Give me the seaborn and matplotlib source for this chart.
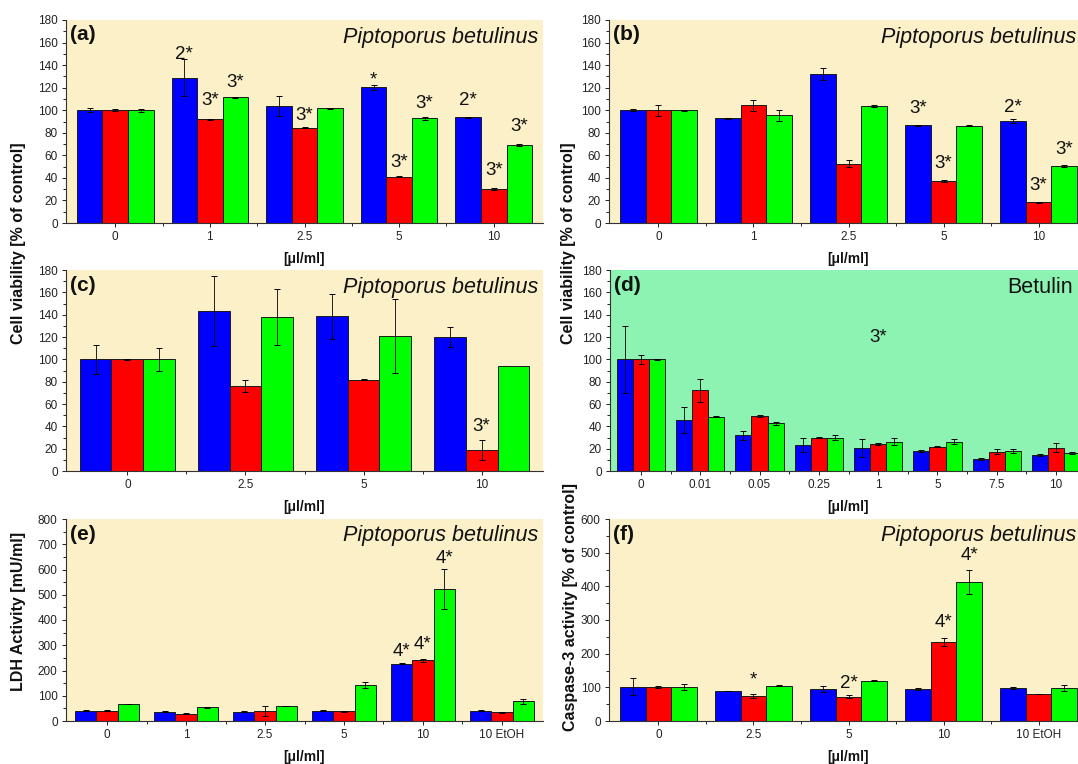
import matplotlib
matplotlib.use("Agg")
import matplotlib.pyplot as plt
import pandas as pd
import seaborn as sns
from matplotlib.container import BarContainer
from matplotlib.ticker import MultipleLocator, FixedLocator

sns.set_style("ticks")
plt.rcParams["font.family"] = ["Liberation Sans", "DejaVu Sans"]

series = ["Series 1", "Series 2", "Series 3"]
colors = ["#0000FF", "#FF0000", "#00FF00"]

# ---------------- panel (a) ----------------
a_cats = ["0", "1", "2.5", "5", "10"]
a_blue = [100, 129, 103.6, 120.2, 93.8]
a_red = [100, 91.8, 84.4, 40.9, 29.9]
a_green = [100, 111.3, 101.8, 92.7, 69]
a_err_blue = [2, 16, 9, 2, 0.5]
a_err_red = [1, 0.5, 0.5, 0.5, 0.8]
a_err_green = [1.5, 0.5, 0.5, 1.2, 1]
a_notes = [("1", 0, 149, "2*"), ("1", 1, 109, "3*"), ("1", 2, 125, "3*"),
           ("2.5", 1, 95.6, "3*"), ("5", 0, 127, "*"), ("5", 2, 106, "3*"),
           ("5", 1, 54, "3*"), ("10", 0, 109, "2*"), ("10", 1, 46.8, "3*"),
           ("10", 2, 85.8, "3*")]

# ---------------- panel (b) ----------------
b_cats = ["0", "1", "2.5", "5", "10"]
b_blue = [100, 92.7, 132, 86.7, 90.6]
b_red = [100, 104.5, 52.7, 37.3, 18.4]
b_green = [100, 95.6, 103.6, 86.1, 50.6]
b_err_blue = [1, 0.5, 5, 0.5, 1.5]
b_err_red = [5, 5, 3, 1, 0.5]
b_err_green = [0.5, 5, 1, 0.5, 1]
b_notes = [("5", 0, 101.5, "3*"), ("5", 1, 52.7, "3*"), ("10", 0, 102.4, "2*"),
           ("10", 1, 33.5, "3*"), ("10", 2, 65, "3*")]

# ---------------- panel (c) ----------------
c_cats = ["0", "2.5", "5", "10"]
c_blue = [100, 143.3, 138.5, 119.7]
c_red = [100, 76.4, 81.8, 18.8]
c_green = [100, 138, 121.2, 93.7]
c_err_blue = [13, 31, 20, 9]
c_err_red = [0.5, 5.5, 0.5, 9]
c_err_green = [10, 25, 33, 0]
c_notes = [("10", 1, 39.7, "3*")]

# ---------------- panel (d) ----------------
d_cats = ["0", "0.01", "0.05", "0.25", "1", "5", "7.5", "10"]
d_blue = [100, 45.7, 32.2, 23.3, 20.9, 17.9, 10.7, 14.3]
d_red = [100, 72.2, 49.3, 29.9, 23.9, 21.8, 17.3, 20.9]
d_green = [100, 48.7, 42.7, 29.9, 26.3, 26.3, 17.9, 16.1]
d_err_blue = [30, 12, 4, 6, 8, 0.5, 0.5, 0.5]
d_err_red = [4, 10, 0.5, 0.5, 1, 0.5, 2, 4]
d_err_green = [0.5, 0.5, 1.5, 2, 3, 2, 2, 0.5]
d_notes = [("1", 1, 120, "3*")]

# ---------------- panel (e) ----------------
e_cats = ["0", "1", "2.5", "5", "10", "10 EtOH"]
e_blue = [41, 36, 37, 41, 227, 41]
e_red = [41, 29.6, 38, 38, 240, 34]
e_green = [67, 54, 59, 142.6, 523, 79]
e_err_blue = [2, 2, 2, 3, 2, 2]
e_err_red = [3, 3, 20, 2, 5, 3]
e_err_green = [1, 1, 1, 12, 80, 10]
e_notes = [("10", 0, 274.6, "4*"), ("10", 1, 301, "4*"), ("10", 2, 644, "4*")]

# ---------------- panel (f) ----------------
f_cats = ["0", "2.5", "5", "10", "10 EtOH"]
f_blue = [101.6, 88.8, 94.7, 94.7, 98.7]
f_red = [101.6, 75, 72, 234.9, 80]
f_green = [101.6, 104.6, 119.4, 413.5, 97.7]
f_err_blue = [25, 1, 10, 2, 3]
f_err_red = [3, 6, 5, 12, 0.5]
f_err_green = [9, 2, 2, 35, 10]
f_notes = [("2.5", 1, 121, "*"), ("5", 1, 111.5, "2*"), ("10", 1, 294, "4*"),
           ("10", 2, 491, "4*")]

YELLOW = "#FCF0C8"
MINT = "#8DF3B3"

W, H = 1078, 764
fig = plt.figure(figsize=(W / 100, H / 100), dpi=100)
fig.patch.set_facecolor("white")


def make_ax(l, t, r, b):
    return fig.add_axes([l / W, 1 - b / H, (r - l) / W, (b - t) / H])


def panel(ax, cats, vals, errs, ymax, major, bg, letter, title, notes,
          title_pad=5, italic=True):
    rows = []
    for s, v in zip(series, vals):
        for c, val in zip(cats, v):
            rows.append({"conc": c, "value": val, "series": s})
    df = pd.DataFrame(rows)
    sns.barplot(data=df, x="conc", y="value", hue="series", order=cats,
                hue_order=series, palette=colors, saturation=1, width=0.81,
                errorbar=None, edgecolor="#1a1a1a", linewidth=0.7,
                legend=False, ax=ax)
    bar_conts = [c for c in ax.containers if isinstance(c, BarContainer)]
    centers = {}
    for i, cont in enumerate(bar_conts):
        for j, bar in enumerate(cont.patches):
            x = bar.get_x() + bar.get_width() / 2
            h = bar.get_height()
            centers[(cats[j], i)] = x
            e = errs[i][j]
            if e > 0:
                ax.errorbar(x, h, yerr=e, fmt="none", ecolor="black",
                            elinewidth=0.6, capsize=2, capthick=0.7, zorder=5)
    for c, si, y, txt in notes:
        ax.text(centers[(c, si)], y, txt, ha="center", va="center",
                fontsize=13.5, color="#111111", zorder=6)
    n = len(cats)
    ax.set_xlim(-0.52, n - 1 + 0.52)
    ax.set_ylim(0, ymax)
    ax.set_facecolor(bg)
    ax.yaxis.set_major_locator(MultipleLocator(major))
    ax.yaxis.set_minor_locator(MultipleLocator(major / 2))
    ax.xaxis.set_minor_locator(FixedLocator([k + 0.5 for k in range(n - 1)]))
    ax.tick_params(axis="both", which="major", direction="out", length=3,
                   width=0.7, labelsize=8.5, pad=3, colors="#222222")
    ax.tick_params(axis="both", which="minor", direction="out", length=2,
                   width=0.7, colors="#222222")
    for sp in ["top", "right"]:
        ax.spines[sp].set_visible(False)
    for sp in ["left", "bottom"]:
        ax.spines[sp].set_color("#333333")
        ax.spines[sp].set_linewidth(0.8)
    ax.set_ylabel("")
    ax.set_xlabel("[\u03bcl/ml]", fontsize=10, fontweight="bold", labelpad=6,
                  color="#111111")
    ax.annotate(letter, xy=(0, 1), xycoords="axes fraction",
                xytext=(4, -15), textcoords="offset pixels", ha="left",
                va="center", fontsize=15, fontweight="bold", color="#111111")
    ax.annotate(title, xy=(1, 1), xycoords="axes fraction",
                xytext=(-title_pad, -17), textcoords="offset pixels",
                ha="right", va="center", fontsize=15.5,
                fontstyle="italic" if italic else "normal",
                color="#111111")


ax_a = make_ax(66, 20, 543, 223)
panel(ax_a, a_cats, [a_blue, a_red, a_green],
      [a_err_blue, a_err_red, a_err_green], 180, 20, YELLOW, "(a)",
      "Piptoporus betulinus", a_notes)

ax_b = make_ax(609, 20, 1088, 223)
panel(ax_b, b_cats, [b_blue, b_red, b_green],
      [b_err_blue, b_err_red, b_err_green], 180, 20, YELLOW, "(b)",
      "Piptoporus betulinus", b_notes, title_pad=12)

ax_c = make_ax(66, 270, 543, 471)
panel(ax_c, c_cats, [c_blue, c_red, c_green],
      [c_err_blue, c_err_red, c_err_green], 180, 20, YELLOW, "(c)",
      "Piptoporus betulinus", c_notes)

ax_d = make_ax(610, 270, 1087, 471)
panel(ax_d, d_cats, [d_blue, d_red, d_green],
      [d_err_blue, d_err_red, d_err_green], 180, 20, MINT, "(d)",
      "Betulin", d_notes, title_pad=14, italic=False)

ax_e = make_ax(66, 519, 543, 721)
panel(ax_e, e_cats, [e_blue, e_red, e_green],
      [e_err_blue, e_err_red, e_err_green], 800, 100, YELLOW, "(e)",
      "Piptoporus betulinus", e_notes)

ax_f = make_ax(609, 519, 1088, 721)
panel(ax_f, f_cats, [f_blue, f_red, f_green],
      [f_err_blue, f_err_red, f_err_green], 600, 100, YELLOW, "(f)",
      "Piptoporus betulinus", f_notes, title_pad=12)

lab_kw = dict(rotation=90, ha="center", va="center", fontsize=11.5,
              fontweight="bold", color="#111111")
fig.text(19 / W, 1 - 243 / H, "Cell viability [% of control]", **lab_kw)
fig.text(568 / W, 1 - 243 / H, "Cell viability [% of control]", **lab_kw)
fig.text(19 / W, 1 - 611 / H, "LDH Activity [mU/ml]", **lab_kw)
fig.text(570 / W, 1 - 607 / H, "Caspase-3 activity [% of control]", **lab_kw)

fig.savefig("out.png", dpi=100)
